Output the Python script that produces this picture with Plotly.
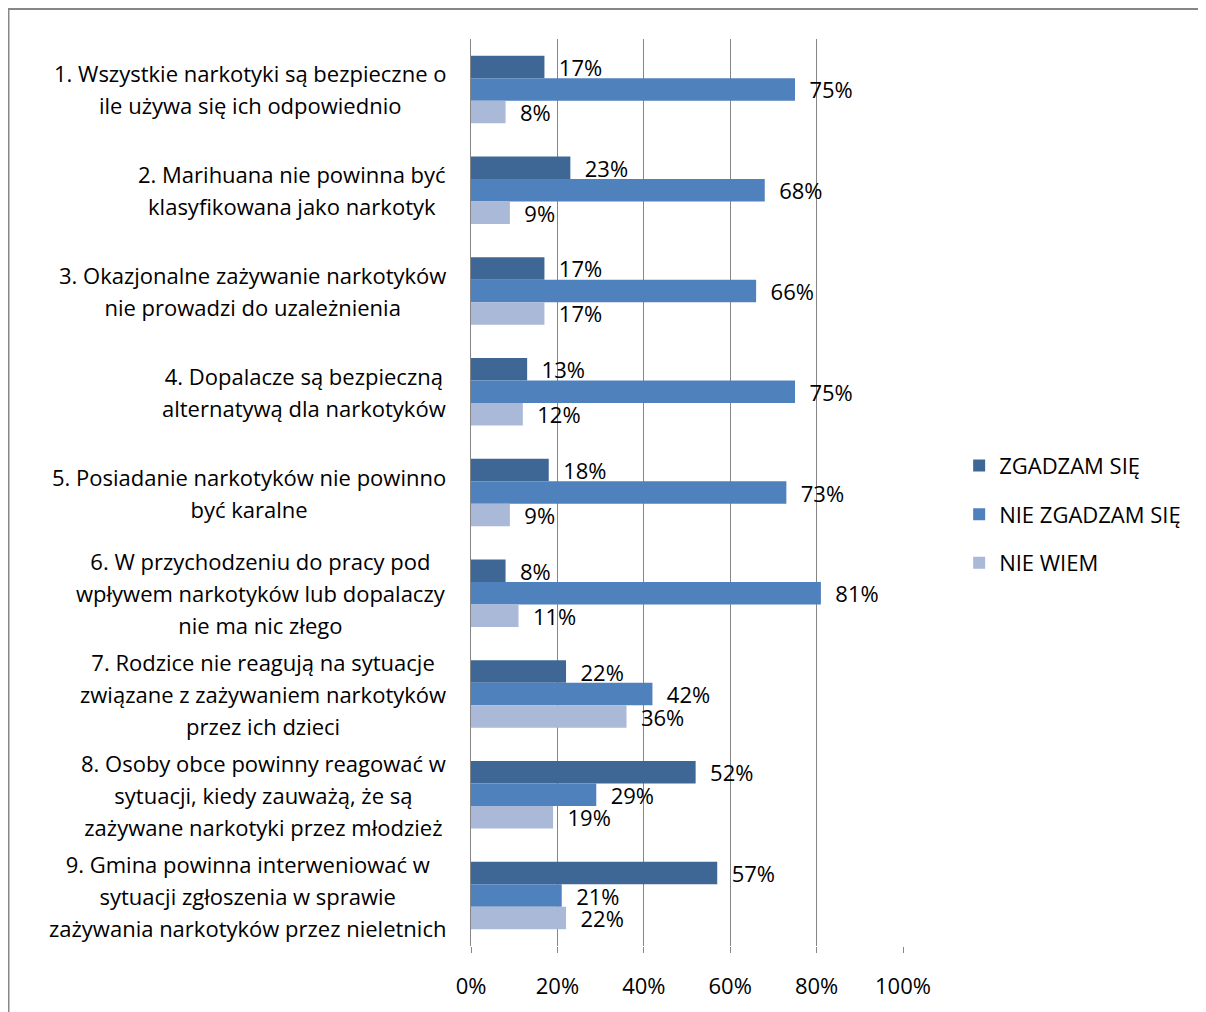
import plotly.graph_objects as go

# Statements (y categories), each split into its printed lines
statements = [
    ["1. Wszystkie narkotyki są bezpieczne o", "ile używa się ich odpowiednio"],
    ["2. Marihuana nie powinna być", "klasyfikowana jako narkotyk"],
    ["3. Okazjonalne zażywanie narkotyków", "nie prowadzi do uzależnienia"],
    ["4. Dopalacze są bezpieczną", "alternatywą dla narkotyków"],
    ["5. Posiadanie narkotyków nie powinno", "być karalne"],
    ["6. W przychodzeniu do pracy pod", "wpływem narkotyków lub dopalaczy", "nie ma nic złego"],
    ["7. Rodzice nie reagują na sytuacje", "związane z zażywaniem narkotyków", "przez ich dzieci"],
    ["8. Osoby obce powinny reagować w", "sytuacji, kiedy zauważą, że są", "zażywane narkotyki przez młodzież"],
    ["9. Gmina powinna interweniować w", "sytuacji zgłoszenia w sprawie", "zażywania narkotyków przez nieletnich"],
]
categories = [s[0] for s in statements]

# Answer shares (percent)
zgadzam = [17, 23, 17, 13, 18, 8, 22, 52, 57]
nie_zgadzam = [75, 68, 66, 75, 73, 81, 42, 29, 21]
nie_wiem = [8, 9, 17, 12, 9, 11, 36, 19, 22]

series = [
    ("ZGADZAM SIĘ", zgadzam, "#3F6796"),
    ("NIE ZGADZAM SIĘ", nie_zgadzam, "#4F81BD"),
    ("NIE WIEM", nie_wiem, "#AAB9D8"),
]

FONT = "Open Sans"
FS = 22
fig = go.Figure()

for name, vals, color in series:
    fig.add_trace(go.Bar(
        y=categories,
        x=[v / 100 for v in vals],
        name=name,
        orientation="h",
        marker=dict(color=color, line=dict(width=0)),
        text=["\u00a0\u00a0" + f"{v}%" for v in vals],
        textposition="outside",
        constraintext="none",
        textfont=dict(family=FONT, size=FS, color="black"),
        cliponaxis=False,
        legendgroup=name,
    ))

# category labels: centered multi-line blocks left of the axis
for cat, lines in zip(categories, statements):
    txt = "<br>".join(f"<span style='font-size:{FS}px'>{ln}</span>" for ln in lines)
    fig.add_annotation(
        x=0, xref="paper", y=cat, yref="y",
        text=txt, showarrow=False,
        xanchor="right", yanchor="middle", align="center", xshift=-23,
        font=dict(family=FONT, size=24.6, color="black"),
    )

# page offset of the plot div is ~8px, so figure coords = screen coords - 8
W, H = 1198, 1004
L, R, T, B = 463, 895, 31, 938
fig.add_shape(
    type="rect", xref="paper", yref="paper",
    x0=(0.5 - L) / (R - L), x1=(1205 - L) / (R - L),
    y0=(B - 1012) / (B - T), y1=(B - 1) / (B - T),
    line=dict(color="#878787", width=2), fillcolor="rgba(0,0,0,0)", layer="below",
)

fig.update_layout(
    width=W, height=H,
    margin=dict(l=L, r=W - R, t=T, b=H - B),
    plot_bgcolor="white", paper_bgcolor="white",
    barmode="group", bargap=0.33, bargroupgap=0,
    font=dict(family=FONT, size=FS, color="black"),
    showlegend=True,
    legend=dict(
        x=1.13, xanchor="left", xref="paper", y=0.476, yanchor="middle",
        traceorder="grouped", tracegroupgap=17,
        font=dict(family=FONT, size=FS, color="black"),
        bgcolor="rgba(0,0,0,0)", itemwidth=30,
    ),
    xaxis=dict(
        range=[0, 1], dtick=0.2, tickformat=".0%",
        showgrid=True, gridcolor="#868686", gridwidth=1,
        zeroline=False, showline=False,
        ticks="outside", ticklen=6, tickcolor="#868686",
        ticklabelstandoff=15,
        tickfont=dict(family=FONT, size=FS, color="black"),
    ),
    yaxis=dict(
        type="category", autorange="reversed", showticklabels=False,
        showline=True, linecolor="#868686", linewidth=1,
        showgrid=False, ticks="",
    ),
)

fig.write_html("out.html")
